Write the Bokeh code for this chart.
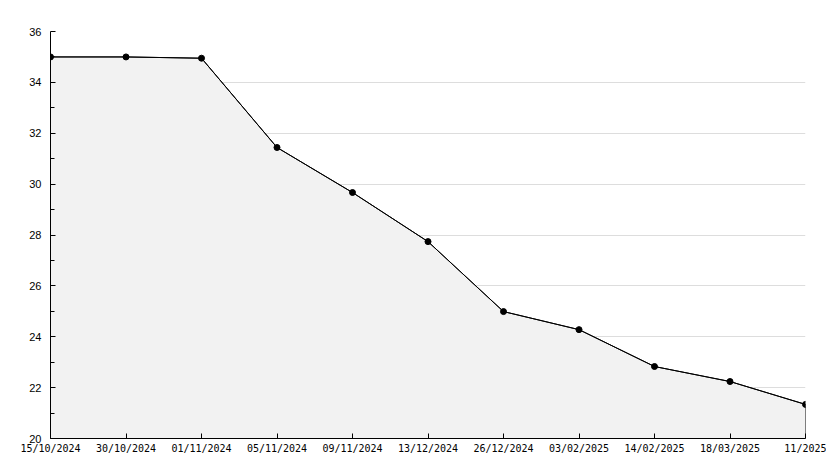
from bokeh.plotting import figure
from bokeh.models import FixedTicker, Range1d
from bokeh.embed import file_html
from bokeh.resources import INLINE

dates = ["15/10/2024", "30/10/2024", "01/11/2024", "05/11/2024", "09/11/2024",
         "13/12/2024", "26/12/2024", "03/02/2025", "14/02/2025", "18/03/2025", "11/2025"]
values = [35.0, 35.0, 34.95, 31.44, 29.67, 27.74, 24.99, 24.28, 22.83, 22.24, 21.34]
y_ticks = [20, 22, 24, 26, 28, 30, 32, 34, 36]
y_minor = [21, 23, 25, 27, 29, 31, 33, 35]
y_min, y_max = 20, 36

xs = list(range(len(dates)))

p = figure(width=826, height=460, frame_width=755, frame_height=407,
           output_backend="svg", toolbar_location=None,
           x_range=Range1d(0, len(dates) - 1), y_range=Range1d(y_min, y_max),
           min_border_left=50, min_border_top=31, min_border_right=21, min_border_bottom=22)
p.outline_line_color = None
p.background_fill_color = "white"

# area
p.patch(xs + [xs[-1], xs[0]], values + [y_min, y_min],
        fill_color="#f2f2f2", line_color="black", line_width=1)
p.line(xs, values, line_color="black", line_width=1)
p.scatter(xs, values, marker="circle", size=6, color="black")

p.xgrid.visible = False
p.ygrid.ticker = FixedTicker(ticks=y_ticks)
p.ygrid.grid_line_color = "#dddddd"

p.xaxis.ticker = FixedTicker(ticks=xs)
p.xaxis.major_label_overrides = {i: d for i, d in enumerate(dates)}
p.yaxis.ticker = FixedTicker(ticks=y_ticks, minor_ticks=y_minor)

for ax in (p.xaxis[0], p.yaxis[0]):
    ax.axis_line_color = "black"
    ax.major_tick_in = 5
    ax.major_tick_out = 0
    ax.minor_tick_in = 4
    ax.minor_tick_out = 0
    ax.major_tick_line_color = "black"
    ax.minor_tick_line_color = "black"
    ax.major_label_text_color = "black"

p.xaxis.minor_tick_line_color = None
p.xaxis.major_label_text_font = "DejaVu Sans Mono"
p.xaxis.major_label_text_font_size = "10px"
p.xaxis.major_label_standoff = 4
p.yaxis.major_label_text_font = "Liberation Sans"
p.yaxis.major_label_text_font_size = "11px"
p.yaxis.major_label_standoff = 9

open("out.html", "w").write(file_html(p, INLINE))
